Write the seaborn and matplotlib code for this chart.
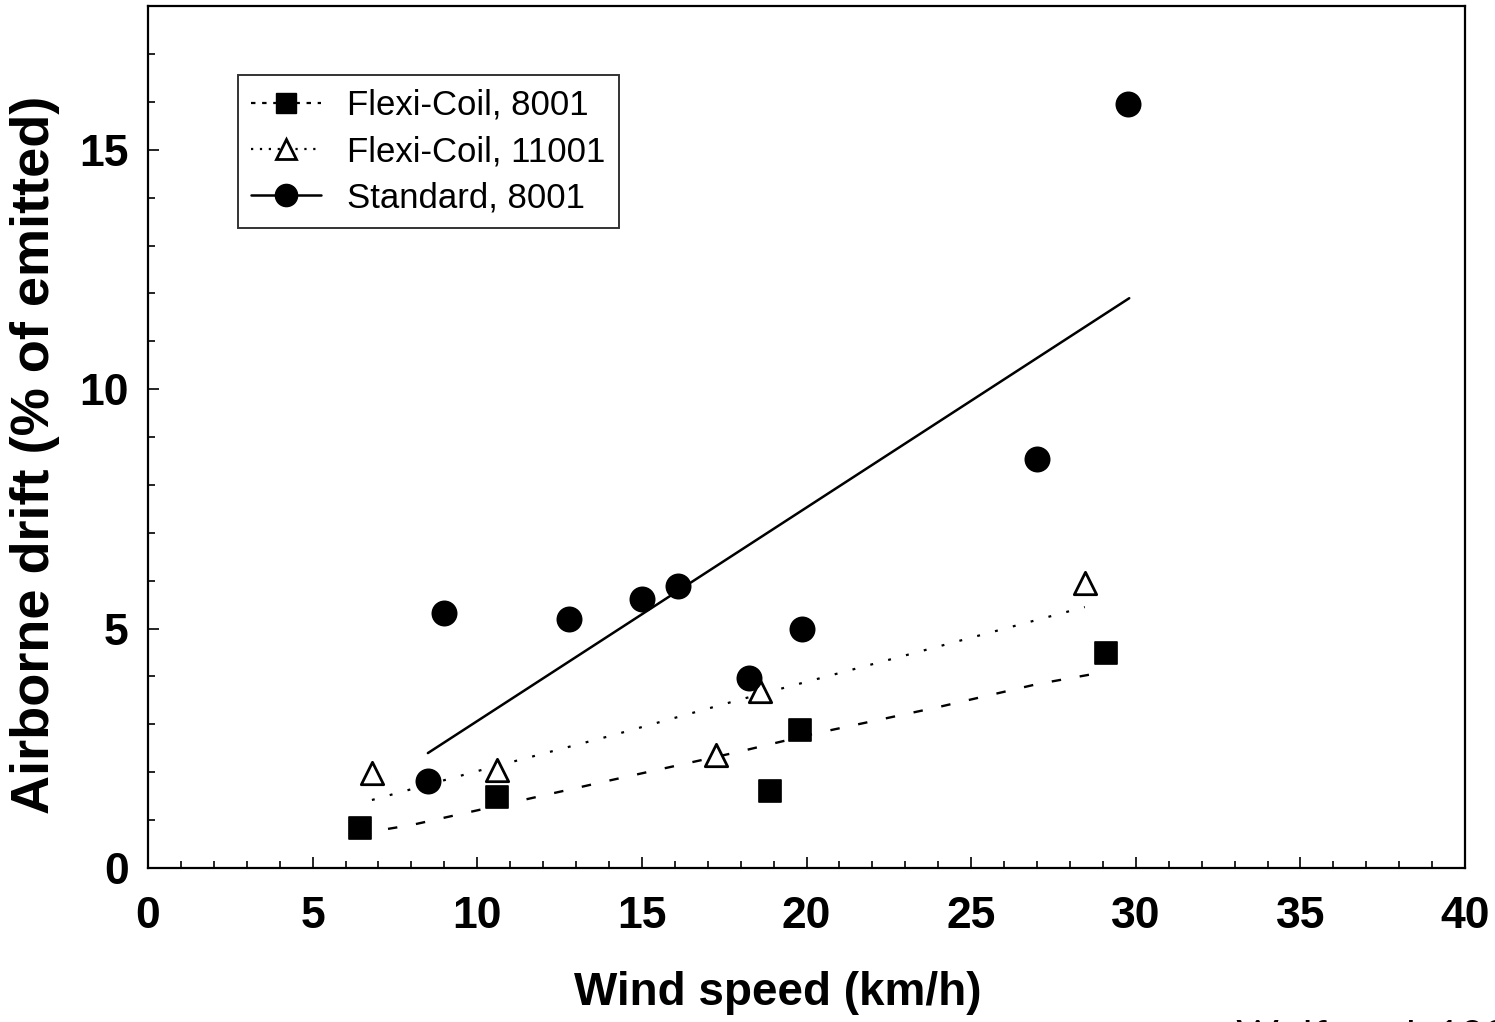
"""
Airborne drift vs wind speed for three sprayer / nozzle setups
"""

import matplotlib
matplotlib.use("Agg")
import matplotlib.pyplot as plt
from matplotlib.lines import Line2D
from matplotlib.ticker import MultipleLocator
import pandas as pd
import seaborn as sns

flexi8001_x = [6.44, 10.6, 18.9, 19.8, 29.1]
flexi8001_y = [0.83, 1.48, 1.60, 2.88, 4.49]

flexi11001_x = [6.8, 10.6, 17.25, 18.6, 28.45]
flexi11001_y = [1.98, 2.04, 2.36, 3.70, 5.95]

standard_x = [8.5, 9.0, 12.8, 15.0, 16.1, 18.25, 19.86, 27.0, 29.75]
standard_y = [1.82, 5.32, 5.20, 5.61, 5.88, 3.96, 5.00, 8.55, 15.96]

# fitted curves
fit8001_x = [6.44, 8.02, 10.3, 14.1, 17.9, 20.2, 24.0, 27.0, 29.1]
fit8001_y = [0.72, 0.90, 1.25, 1.84, 2.42, 2.80, 3.36, 3.84, 4.10]

fit11001_x = [6.8, 10.2, 14.1, 18.0, 23.0, 28.45]
fit11001_y = [1.42, 2.06, 2.77, 3.52, 4.44, 5.45]

fitstd_x = [8.5, 29.8]
fitstd_y = [2.40, 11.90]

labels = ["Flexi-Coil, 8001", "Flexi-Coil, 11001", "Standard, 8001"]

sns.set_theme(style="white")
plt.rcParams["font.family"] = ["Liberation Sans", "DejaVu Sans"]
plt.rcParams["text.color"] = "black"
plt.rcParams["axes.labelcolor"] = "black"

fig = plt.figure(figsize=(14.95, 10.22), dpi=100)
ax = fig.add_axes([0.099, 0.1507, 0.881, 0.8433])

dashed = (0, (4, 8))
dotted = (0, (1.3, 7))

sns.lineplot(x=fit8001_x, y=fit8001_y, ax=ax, color="black", lw=1.7,
             linestyle=dashed, sort=False)
sns.lineplot(x=fit11001_x, y=fit11001_y, ax=ax, color="black", lw=1.6,
             linestyle=dotted, sort=False)
sns.lineplot(x=fitstd_x, y=fitstd_y, ax=ax, color="black", lw=1.8,
             sort=False)

df_sq = pd.DataFrame({"x": flexi8001_x, "y": flexi8001_y})
df_tri = pd.DataFrame({"x": flexi11001_x, "y": flexi11001_y})
df_std = pd.DataFrame({"x": standard_x, "y": standard_y})

sns.scatterplot(data=df_sq, x="x", y="y", ax=ax, marker="s", s=230,
                color="black", edgecolor="black", zorder=3)
sns.scatterplot(data=df_tri, x="x", y="y", ax=ax, marker="^", s=260,
                facecolor="white", edgecolor="black", linewidth=2, zorder=3)
sns.scatterplot(data=df_std, x="x", y="y", ax=ax, marker="o", s=300,
                color="black", edgecolor="black", zorder=3)

ax.set_xlim(0, 40)
ax.set_ylim(0, 18)
ax.xaxis.set_major_locator(MultipleLocator(5))
ax.xaxis.set_minor_locator(MultipleLocator(1))
ax.yaxis.set_major_locator(MultipleLocator(5))
ax.yaxis.set_minor_locator(MultipleLocator(1))
ax.tick_params(axis="both", which="major", direction="in", length=8,
               width=1.2, colors="black", labelsize=32,
               bottom=True, left=True, top=False, right=False)
ax.tick_params(axis="x", which="major", pad=20)
ax.tick_params(axis="y", which="major", pad=14)
ax.tick_params(axis="both", which="minor", direction="in", length=5,
               width=1.2, colors="black",
               bottom=True, left=True, top=False, right=False)
for lab in ax.get_xticklabels() + ax.get_yticklabels():
    lab.set_fontweight("bold")

for sp in ax.spines.values():
    sp.set_color("black")
    sp.set_linewidth(1.6)
    sp.set_visible(True)

ax.set_xlabel("Wind speed (km/h)", fontsize=33, fontweight="bold")
ax.set_ylabel("Airborne drift (% of emitted)", fontsize=39,
              fontweight="bold")
ax.xaxis.set_label_coords(0.478, -0.145)
ax.yaxis.set_label_coords(-0.086, 0.479)
ax.xaxis.label.set_va("center")
ax.yaxis.label.set_va("center")

handles = [
    Line2D([], [], color="black", lw=1.6, linestyle=(0, (2, 3)),
           marker="s", markersize=15, markerfacecolor="black"),
    Line2D([], [], color="black", lw=1.6, linestyle=(0, (1, 3)),
           marker="^", markersize=15, markerfacecolor="white",
           markeredgewidth=2),
    Line2D([], [], color="black", lw=1.8, marker="o", markersize=16),
]
leg = ax.legend(handles, labels, loc="upper left",
                bbox_to_anchor=(0.068, 0.92), borderaxespad=0,
                fontsize=25, frameon=True, fancybox=False,
                edgecolor="black", handlelength=2.0, handletextpad=0.75,
                labelspacing=0.38, borderpad=0.4, labelcolor="black")
leg.get_frame().set_linewidth(1.4)

fig.text(0.827, 1 - 1020 / 1022, "Wolf et al. 1993", fontsize=30,
         family=["Lato", "DejaVu Sans"], va="top", ha="left")

fig.savefig("out.png", dpi=100)
plt.close(fig)
